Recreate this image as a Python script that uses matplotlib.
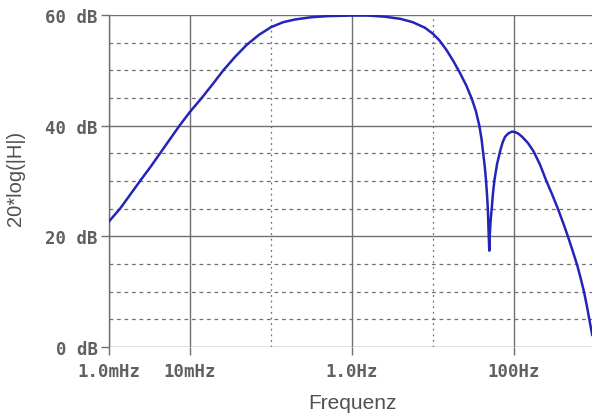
#!/usr/bin/env python3

import matplotlib
matplotlib.use('Agg')
import matplotlib.pyplot as plt
import numpy as np

# values: log10(frequency / Hz) and magnitude in dB
logf = [-3.0, -2.864, -2.74, -2.617, -2.49, -2.37, -2.25, -2.13, -2.0,
        -1.856, -1.72, -1.589, -1.44, -1.30, -1.15, -1.0, -0.85, -0.7,
        -0.5, -0.3, 0.0, 0.2, 0.4, 0.6, 0.75, 0.9, 1.0, 1.08, 1.17, 1.25,
        1.33, 1.41, 1.478, 1.53, 1.572, 1.60, 1.62, 1.64, 1.655, 1.667,
        1.677, 1.687, 1.695, 1.70, 1.712, 1.725, 1.74, 1.757, 1.79, 1.827,
        1.86, 1.89, 1.93, 1.97, 2.0, 2.05, 2.1, 2.17, 2.24, 2.32, 2.40,
        2.47, 2.547, 2.61, 2.67, 2.73, 2.78, 2.82, 2.864, 2.90, 2.93, 2.965]
mag_db = [22.7, 25.0, 27.5, 30.0, 32.5, 35.0, 37.5, 40.0, 42.5,
          45.0, 47.5, 50.0, 52.5, 54.6, 56.4, 57.8, 58.7, 59.2,
          59.6, 59.8, 59.9, 59.9, 59.7, 59.3, 58.7, 57.7, 56.6, 55.4, 53.6, 51.7,
          49.6, 47.3, 44.9, 42.6, 40.0, 37.5, 35.0, 32.5, 30.0, 27.5,
          25.0, 20.5, 17.4, 20.0, 23.0, 25.0, 27.7, 30.0, 33.0, 35.3,
          37.0, 38.0, 38.6, 38.9, 38.9, 38.6, 38.0, 36.9, 35.4, 33.0, 30.0,
          27.6, 24.8, 22.3, 19.8, 17.1, 14.8, 12.6, 10.0, 7.4, 5.0, 2.2]

xticks = [1e-3, 1e-2, 1.0, 100.0]
xtick_labels = ['1.0mHz', '10mHz', '1.0Hz', '100Hz']
xgrid_dotted = [0.1, 10.0]
yticks = [0, 20, 40, 60]
ytick_labels = ['0 dB', '20 dB', '40 dB', '60 dB']
ygrid_dashed = [5, 10, 15, 25, 30, 35, 45, 50, 55]

freq = 10.0 ** np.array(logf)

fig = plt.figure(figsize=(5.92, 4.14), dpi=100)
ax = fig.add_axes([109 / 592, 1 - 348 / 414, 486 / 592, 332 / 414])

grid_col = '#707070'
for y in ygrid_dashed:
	ax.axhline(y, color=grid_col, lw=0.9, ls=(0, (3, 3)), zorder=1)
for y in yticks:
	ax.axhline(y, color=grid_col, lw=1.0, zorder=1)
for x in xgrid_dotted:
	ax.axvline(x, color=grid_col, lw=0.9, ls=(0, (1.5, 3)), zorder=1)
for x in xticks:
	ax.axvline(x, color=grid_col, lw=1.0, zorder=1)

ax.plot(freq, mag_db, color='#2424b8', lw=1.8, zorder=3)

ax.set_xscale('log')
ax.set_xlim(1e-3, 1e3)
ax.set_ylim(0, 60)
ax.minorticks_off()

ax.set_xticks(xticks)
ax.set_xticklabels(xtick_labels)
ax.set_yticks(yticks)
ax.set_yticklabels(ytick_labels)

for lab in ax.get_xticklabels() + ax.get_yticklabels():
	lab.set_fontfamily('DejaVu Sans Mono')
	lab.set_fontweight('bold')
	lab.set_fontsize(12.5)
	lab.set_color('#606060')

ax.tick_params(axis='y', direction='out', length=6, width=1.0,
	color=grid_col, pad=2)
ax.tick_params(axis='x', direction='out', length=6, width=1.0,
	color=grid_col, pad=5)

for side in ['top', 'right', 'bottom']:
	ax.spines[side].set_visible(False)
ax.spines['left'].set_color(grid_col)
ax.spines['left'].set_linewidth(1.0)

ax.set_ylabel('20*log(|H|)', family='Liberation Sans', fontsize=14.5, color='#505050')
ax.yaxis.set_label_coords(-0.173, 0.51)
ax.set_xlabel('Frequenz', family='Liberation Sans', fontsize=15, color='#505050')
ax.xaxis.set_label_coords(0.5, -0.14)

fig.savefig('out.png', dpi=100)
